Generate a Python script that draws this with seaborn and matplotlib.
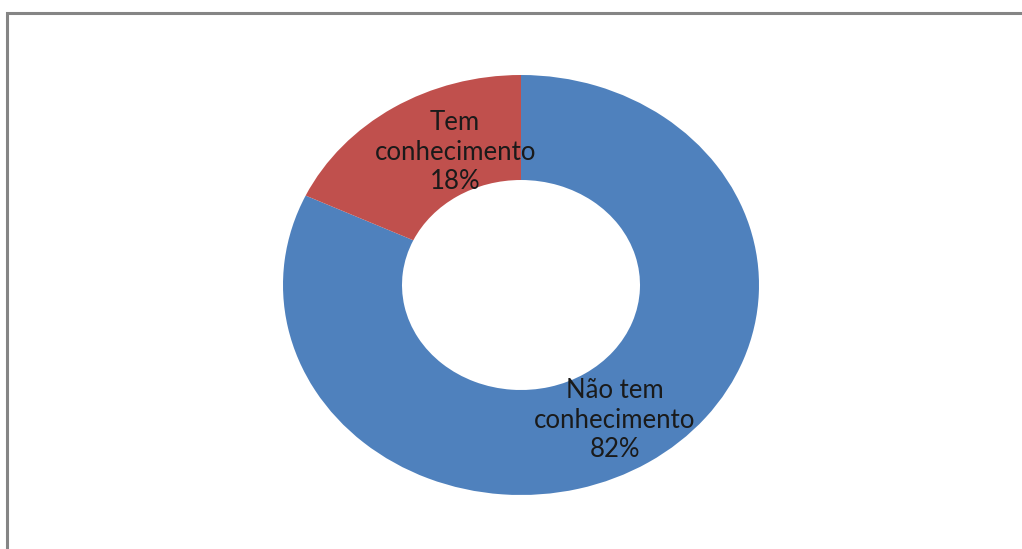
import matplotlib
matplotlib.use('Agg')
import matplotlib.pyplot as plt
from matplotlib.patches import Rectangle
import seaborn as sns

categorias = ['Não tem\nconhecimento', 'Tem\nconhecimento']
valores = [82, 18]
cores = ['#4F81BD', '#C0504D']
# posicao dos rotulos (coordenadas do eixo do grafico)
rotulo_x = [0.395, -0.277]
rotulo_y = [-0.643, 0.633]

sns.set_style('white')
plt.rcParams['font.family'] = ['Lato', 'DejaVu Sans']

fig = plt.figure(figsize=(10.22, 5.49), dpi=100)
ax = fig.add_axes([283 / 1022, 54 / 549, 476 / 1022, 420 / 549])

ax.pie(valores, colors=cores, startangle=90, counterclock=False,
       radius=1, wedgeprops=dict(width=0.5, edgecolor='none'))
ax.set_aspect('auto')
ax.set_xlim(-1, 1)
ax.set_ylim(-1, 1)
ax.axis('off')

for cat, v, x, y in zip(categorias, valores, rotulo_x, rotulo_y):
    ax.text(x, y, f'{cat}\n{v}%', ha='center', va='center',
            fontsize=18.5, color='#1a1a1a', linespacing=1.22)

# moldura cinza
fig.add_artist(Rectangle((7 / 1022, -0.1), 1.2, 1 - 13 / 549 + 0.1,
                         transform=fig.transFigure, fill=False,
                         edgecolor='#858585', lw=2.2))

fig.savefig('out.png', dpi=100)
